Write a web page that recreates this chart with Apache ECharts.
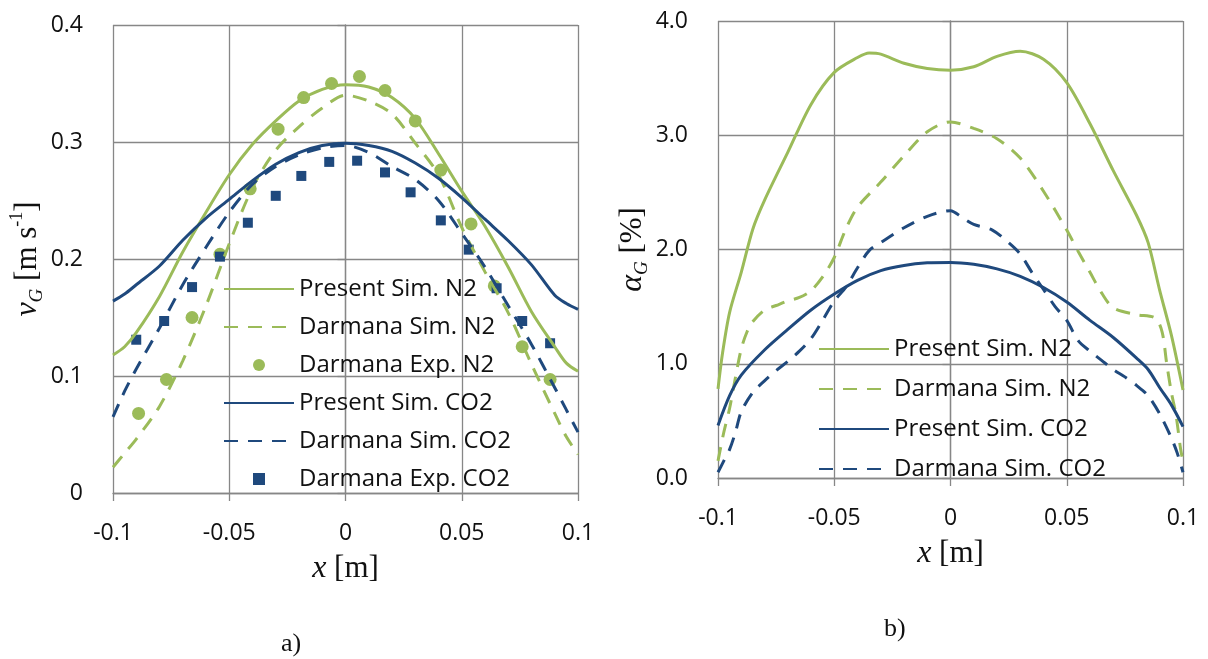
<!DOCTYPE html>
<html>
<head>
<meta charset="utf-8">
<script src="https://cdn.jsdelivr.net/npm/echarts@6/dist/echarts.min.js"></script>
<style>
html,body{margin:0;padding:0;background:#fff;}
#c{width:1208px;height:659px;}
</style>
</head>
<body>
<div id="c"></div>
<script>
// ---------- Data: panel a) gas velocity v_G [m/s] ----------
const xSimA = [-0.1,-0.095,-0.09,-0.08,-0.07,-0.06,-0.05,-0.04,-0.03,-0.02,-0.01,0,0.01,0.02,0.03,0.04,0.05,0.06,0.07,0.08,0.09,0.095,0.1];
const presentN2_v  = [0.118,0.125,0.137,0.168,0.206,0.240,0.272,0.298,0.318,0.335,0.345,0.349,0.347,0.338,0.320,0.290,0.258,0.228,0.193,0.155,0.125,0.111,0.104];
const darmanaN2_v  = [0.022,0.034,0.046,0.074,0.113,0.160,0.213,0.261,0.293,0.313,0.329,0.340,0.335,0.324,0.299,0.272,0.227,0.189,0.154,0.110,0.068,0.048,0.033];
const presentCO2_v = [0.164,0.170,0.178,0.194,0.216,0.235,0.251,0.267,0.281,0.291,0.297,0.299,0.297,0.292,0.282,0.269,0.2525,0.234,0.2156,0.195,0.169,0.162,0.157];
const darmanaCO2_v = [0.065,0.087,0.106,0.141,0.178,0.210,0.240,0.264,0.279,0.289,0.295,0.297,0.291,0.279,0.268,0.250,0.222,0.193,0.160,0.127,0.090,0.071,0.052];
const expN2_x  = [-0.089,-0.077,-0.066,-0.054,-0.041,-0.029,-0.018,-0.006,0.006,0.017,0.030,0.041,0.054,0.064,0.076,0.088];
const expN2_v  = [0.068,0.097,0.150,0.204,0.260,0.311,0.338,0.350,0.356,0.344,0.318,0.276,0.230,0.177,0.125,0.097];
const expCO2_x = [-0.090,-0.078,-0.066,-0.054,-0.042,-0.030,-0.019,-0.007,0.005,0.017,0.028,0.041,0.053,0.065,0.076,0.088];
const expCO2_v = [0.131,0.147,0.176,0.202,0.231,0.254,0.271,0.283,0.284,0.274,0.257,0.233,0.208,0.175,0.147,0.128];

// ---------- Data: panel b) gas holdup alpha_G [%] ----------
const xPresentN2_b  = [-0.1,-0.098,-0.095,-0.09,-0.085,-0.08,-0.07,-0.06,-0.05,-0.04,-0.035,-0.03,-0.02,-0.01,0,0.01,0.02,0.03,0.04,0.05,0.06,0.07,0.08,0.085,0.09,0.095,0.1];
const presentN2_a   = [0.78,1.1,1.45,1.8,2.18,2.43,2.85,3.27,3.55,3.68,3.72,3.71,3.63,3.585,3.57,3.60,3.69,3.735,3.665,3.46,3.1,2.69,2.3,2.06,1.64,1.25,0.77];
const xDarmanaN2_b  = [-0.1,-0.0975,-0.095,-0.0925,-0.09,-0.0875,-0.085,-0.08,-0.075,-0.07,-0.065,-0.06,-0.055,-0.05,-0.045,-0.04,-0.03,-0.02,-0.01,0,0.01,0.02,0.03,0.04,0.05,0.055,0.06,0.065,0.07,0.08,0.088,0.091,0.093,0.095,0.097,0.099,0.1];
const darmanaN2_a   = [0.15,0.40,0.61,0.88,1.13,1.28,1.37,1.47,1.51,1.55,1.58,1.64,1.76,1.93,2.18,2.37,2.59,2.82,3.03,3.117,3.06,2.97,2.80,2.51,2.17,1.98,1.80,1.62,1.49,1.43,1.40,1.28,1.0,0.75,0.55,0.25,0.15];
const xPresentCO2_b = [-0.1,-0.095,-0.09,-0.08,-0.07,-0.06,-0.05,-0.04,-0.03,-0.02,-0.01,0,0.01,0.02,0.03,0.04,0.05,0.06,0.07,0.08,0.085,0.09,0.095,0.1];
const presentCO2_a  = [0.46,0.72,0.90,1.12,1.30,1.47,1.61,1.73,1.815,1.86,1.883,1.887,1.87,1.83,1.765,1.667,1.54,1.38,1.23,1.05,0.95,0.79,0.64,0.45];
const xDarmanaCO2_b = [-0.1,-0.0975,-0.095,-0.0925,-0.09,-0.085,-0.08,-0.075,-0.07,-0.065,-0.06,-0.055,-0.05,-0.045,-0.04,-0.035,-0.03,-0.02,-0.01,0,0.005,0.01,0.018,0.025,0.03,0.035,0.04,0.045,0.05,0.055,0.06,0.065,0.07,0.075,0.08,0.085,0.09,0.095,0.0975,0.1];
const darmanaCO2_a  = [0.05,0.15,0.25,0.40,0.58,0.75,0.85,0.94,1.02,1.11,1.22,1.38,1.55,1.67,1.84,1.99,2.06,2.19,2.29,2.34,2.28,2.22,2.17,2.06,1.96,1.80,1.65,1.50,1.38,1.20,1.11,1.03,0.95,0.885,0.81,0.72,0.56,0.35,0.22,0.05];

// ---------- Labels ----------
const namesA = ['Present Sim. N2','Darmana Sim. N2','Darmana Exp. N2','Present Sim. CO2','Darmana Sim. CO2','Darmana Exp. CO2'];
const namesB = ['Present Sim. N2','Darmana Sim. N2','Present Sim. CO2','Darmana Sim. CO2'];
const xTickLabels = ['-0.1','-0.05','0','0.05','0.1'];
const panelLabels = ['a)','b)'];

const GREEN = '#9bbb59', BLUE = '#1f497d', GRID = '#878787', TXT = '#111';
const SANS = '"Open Sans", sans-serif';
const SERIF = '"Liberation Serif", "DejaVu Serif", serif';
const DASH = [14, 10];
const SQUARE = 'path://M0,0L10,0L10,10L0,10Z';
const scatterNames = [namesA[2], namesA[5]];

const zip = (xs, ys) => xs.map((x, i) => [x, ys[i]]);

function xAxis(gi) {
  return {
    type: 'value', gridIndex: gi, min: -0.1, max: 0.1, interval: 0.05,
    axisLine: { show: true, onZero: false, lineStyle: { color: GRID, width: 1.3 } },
    axisTick: { show: true, length: 8, lineStyle: { color: GRID, width: 1.3 } },
    splitLine: { show: true, lineStyle: { color: GRID, width: 1.3 } },
    axisLabel: { color: TXT, fontFamily: SANS, fontSize: 23, margin: 29,
      formatter: v => xTickLabels[Math.round((v + 0.1) / 0.05)] },
    name: '{i|x}{r| [m]}', nameLocation: 'middle', nameGap: 60,
    nameTextStyle: { rich: {
      i: { fontFamily: SERIF, fontStyle: 'italic', fontSize: 32, color: TXT },
      r: { fontFamily: SERIF, fontSize: 31, color: TXT } } }
  };
}

function line(name, xi, xs, ys, color, dashed) {
  return {
    type: 'line', name, xAxisIndex: xi, yAxisIndex: xi, data: zip(xs, ys),
    smooth: 0.3, symbol: 'none', showSymbol: false,
    lineStyle: { color, width: 3, type: dashed ? DASH : 'solid' },
    itemStyle: { color }
  };
}
function scatter(name, xs, ys, color, symbol, size) {
  return {
    type: 'scatter', name, xAxisIndex: 0, yAxisIndex: 0, data: zip(xs, ys),
    symbol, symbolSize: size, symbolKeepAspect: true, itemStyle: { color, opacity: 1 }
  };
}
function legendItems(names) {
  return names.map(n => scatterNames.includes(n)
    ? { name: n }
    : { name: n, itemStyle: { color: 'rgba(0,0,0,0)', borderColor: 'rgba(0,0,0,0)', borderWidth: 0, opacity: 0 } });
}

const legendBase = {
  orient: 'vertical', itemWidth: 70, itemHeight: 12, symbolKeepAspect: true,
  textStyle: { color: TXT, fontFamily: SANS, fontSize: 24, lineHeight: 28 },
  selectedMode: false
};

const titleRich = {
  i: { fontFamily: SERIF, fontStyle: 'italic', fontSize: 32, lineHeight: 38, color: TXT, verticalAlign: 'middle' },
  sub: { fontFamily: SERIF, fontStyle: 'italic', fontSize: 19, lineHeight: 19, color: TXT, verticalAlign: 'bottom' },
  r: { fontFamily: SERIF, fontSize: 31, lineHeight: 38, color: TXT, verticalAlign: 'middle' },
  sup: { fontFamily: SERIF, fontSize: 18, lineHeight: 18, color: TXT, verticalAlign: 'top' }
};

const option = {
  backgroundColor: '#fff',
  animation: false,
  grid: [
    { left: 113, top: 25, width: 465, height: 468 },
    { left: 718, top: 21, width: 465, height: 457 }
  ],
  xAxis: [xAxis(0), xAxis(1)],
  yAxis: [
    { type: 'value', gridIndex: 0, min: 0, max: 0.4, interval: 0.1,
      axisLine: { show: true, lineStyle: { color: GRID, width: 1.3 } },
      axisTick: { show: true, length: 8, lineStyle: { color: GRID, width: 1.3 } },
      splitLine: { show: true, lineStyle: { color: GRID, width: 1.3 } },
      axisLabel: { color: TXT, fontFamily: SANS, fontSize: 23, margin: 30,
        formatter: v => String(Math.round(v * 10) / 10) },
      name: '{i|ν}{sub|G}{r| [m s}{sup|-1}{r|]}', nameLocation: 'middle', nameGap: 50, nameRotate: 90,
      nameTextStyle: { rich: titleRich } },
    { type: 'value', gridIndex: 1, min: 0, max: 4, interval: 1,
      axisLine: { show: true, lineStyle: { color: GRID, width: 1.3 } },
      axisTick: { show: true, length: 8, lineStyle: { color: GRID, width: 1.3 } },
      splitLine: { show: true, lineStyle: { color: GRID, width: 1.3 } },
      axisLabel: { color: TXT, fontFamily: SANS, fontSize: 23, margin: 30,
        formatter: v => v.toFixed(1) },
      name: '{i|α}{sub|G}{r| [%]}', nameLocation: 'middle', nameGap: 38, nameRotate: 90,
      nameTextStyle: { rich: titleRich } }
  ],
  legend: [
    Object.assign({}, legendBase, { left: 218, top: 270, itemGap: 10, data: legendItems(namesA) }),
    Object.assign({}, legendBase, { left: 813, top: 330, itemGap: 12, data: legendItems(namesB) })
  ],
  title: [
    { text: panelLabels[0], left: 276, top: 626, textStyle: { fontFamily: SERIF, fontWeight: 'normal', fontSize: 26, color: TXT } },
    { text: panelLabels[1], left: 879, top: 611, textStyle: { fontFamily: SERIF, fontWeight: 'normal', fontSize: 26, color: TXT } }
  ],
  series: [
    line(namesA[0], 0, xSimA, presentN2_v, GREEN, false),
    line(namesA[1], 0, xSimA, darmanaN2_v, GREEN, true),
    line(namesA[3], 0, xSimA, presentCO2_v, BLUE, false),
    line(namesA[4], 0, xSimA, darmanaCO2_v, BLUE, true),
    scatter(namesA[2], expN2_x, expN2_v, GREEN, 'circle', 13),
    scatter(namesA[5], expCO2_x, expCO2_v, BLUE, SQUARE, 10),
    line(namesB[0], 1, xPresentN2_b, presentN2_a, GREEN, false),
    line(namesB[1], 1, xDarmanaN2_b, darmanaN2_a, GREEN, true),
    line(namesB[2], 1, xPresentCO2_b, presentCO2_a, BLUE, false),
    line(namesB[3], 1, xDarmanaCO2_b, darmanaCO2_a, BLUE, true)
  ]
};

const chart = echarts.init(document.getElementById('c'), null, { renderer: 'canvas' });
chart.setOption(option);
</script>
</body>
</html>
